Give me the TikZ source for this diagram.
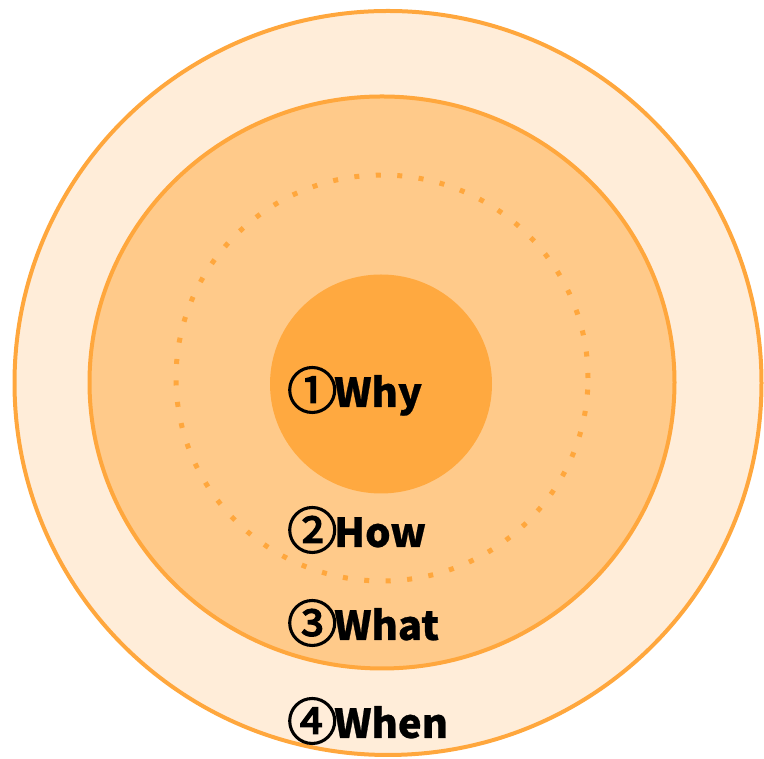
\documentclass[tikz,border=0pt]{standalone}
\usepackage{fontspec}
\newfontfamily\jp{Noto Sans CJK JP}[BoldFeatures={FakeBold=0.6}]
\newfontfamily\circfont{Noto Sans CJK JP}[FakeBold=3]
\definecolor{ring}{HTML}{FFA73D}
\definecolor{outerfill}{HTML}{FFEDD9}
\definecolor{midfill}{HTML}{FFCA8A}
\definecolor{corefill}{HTML}{FFA940}
\newcommand{\cnum}[1]{{\circfont\mdseries\fontsize{50}{50}\selectfont\raisebox{-2pt}{#1}}\hspace{-3pt}}
\tikzset{
  lbl/.style={anchor=base west, inner sep=0pt, font=\jp\bfseries\fontsize{40}{40}\selectfont, text=black},
}
\begin{document}
\begin{tikzpicture}[x=1pt,y=1pt]
\useasboundingbox (0,0) rectangle (764,759);
\coordinate (co) at (388,376);
\coordinate (cm) at (382,376.5);
\coordinate (cd) at (382,381);
\coordinate (ci) at (381,375);
\fill[outerfill, draw=ring, line width=4pt] (co) ellipse [x radius=373.5, y radius=372];
\fill[midfill, draw=ring, line width=4pt] (cm) ellipse [x radius=292.5, y radius=286];
\draw[ring, line width=5pt, dash pattern=on 5pt off 16.5pt] (cd) ellipse [x radius=206, y radius=203];
\fill[corefill] (ci) ellipse [x radius=111, y radius=109.5];
\node[lbl] (why) at (287,352) {\cnum{①}Why};
\node[lbl] (how) at (287,212) {\cnum{②}How};
\node[lbl] (what) at (287,119) {\cnum{③}What};
\node[lbl] (when) at (287,21) {\cnum{④}When};
\end{tikzpicture}
\end{document}
